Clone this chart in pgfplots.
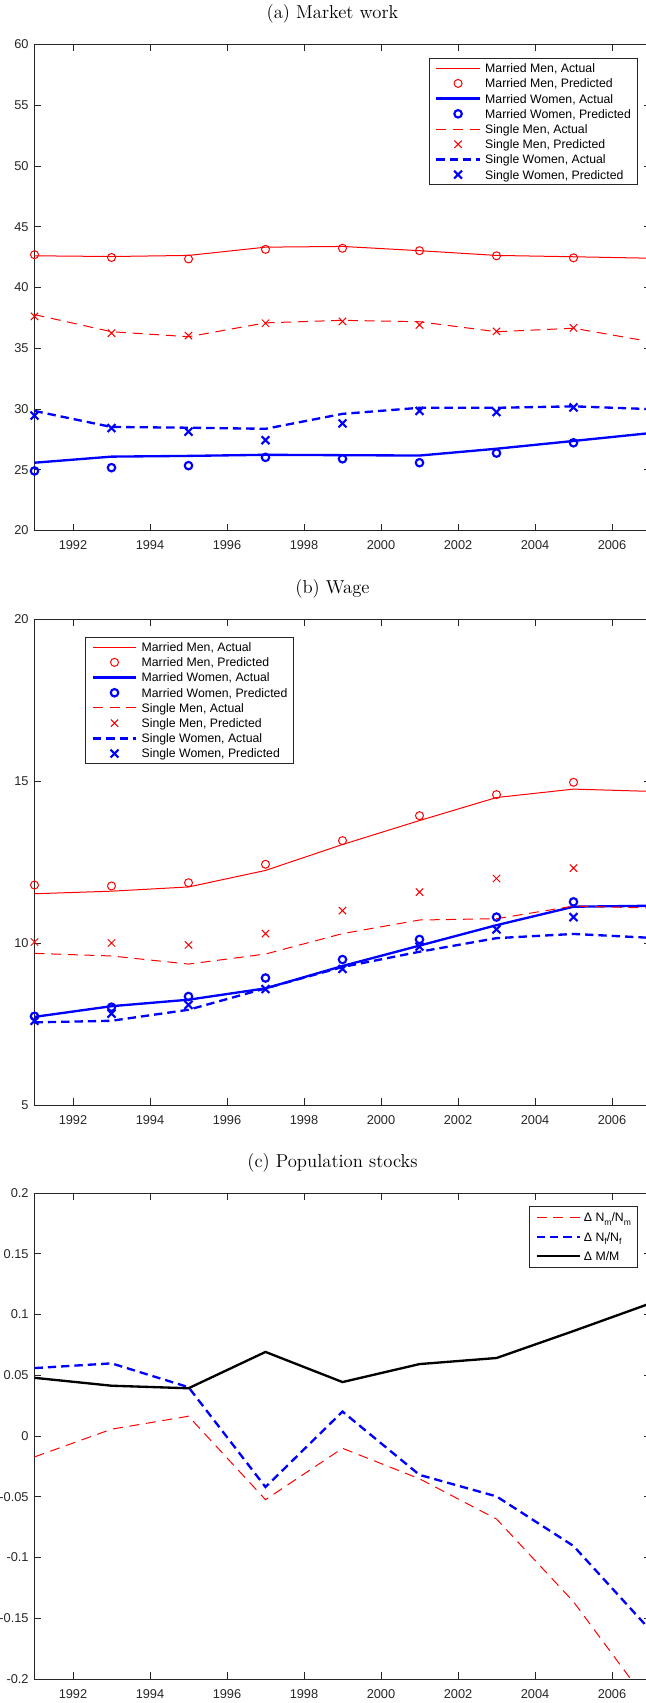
\documentclass[border=0pt]{standalone}
\usepackage{fontspec}
\usepackage{pgfplots}
\usepackage{pgfplotstable}
\pgfplotsset{compat=1.18}
\newfontfamily\arialfont{Liberation Sans}
\definecolor{axgray}{rgb}{0.15,0.15,0.15}
\newcommand{\sub}[1]{\raisebox{-2.4pt}{\fontsize{6.4}{7}\selectfont #1}}

% Panel (a): weekly hours of market work
\pgfplotstableread{
year mmA   smA   mwA   swA
1991 42.61 37.77 25.58 29.84
1993 42.55 36.36 26.08 28.52
1995 42.64 35.95 26.14 28.46
1997 43.32 37.09 26.23 28.37
1999 43.38 37.30 26.20 29.60
2001 43.03 37.18 26.17 30.10
2003 42.64 36.36 26.73 30.10
2005 42.53 36.65 27.37 30.22
2007 42.41 35.54 28.02 29.99
}\workactual
\pgfplotstableread{
year mmP   smP   mwP   swP
1991 42.70 37.62 24.90 29.46
1993 42.47 36.24 25.17 28.43
1995 42.35 36.04 25.34 28.14
1997 43.14 37.06 26.02 27.43
1999 43.23 37.21 25.90 28.81
2001 43.03 36.92 25.58 29.84
2003 42.61 36.39 26.37 29.75
2005 42.44 36.68 27.22 30.13
}\workpred

% Panel (b): hourly wage
\pgfplotstableread{
year mmA   smA   mwA   swA
1991 11.52 9.68  7.72  7.55
1993 11.60 9.60  8.05  7.60
1995 11.73 9.35  8.25  7.94
1997 12.24 9.66  8.60  8.60
1999 13.04 10.29 9.29  9.26
2001 13.78 10.71 9.92  9.73
2003 14.49 10.75 10.55 10.15
2005 14.75 11.14 11.12 10.28
2007 14.68 11.08 11.15 10.16
}\wageactual
\pgfplotstableread{
year mmP   smP   mwP   swP
1991 11.79 10.03 7.74  7.60
1993 11.76 10.00 8.02  7.82
1995 11.86 9.94  8.35  8.09
1997 12.43 10.29 8.92  8.58
1999 13.16 11.00 9.49  9.20
2001 13.93 11.57 10.11 9.89
2003 14.58 11.99 10.80 10.42
2005 14.96 12.31 11.27 10.80
}\wagepred

% Panel (c): changes in population stocks
\pgfplotstableread{
year Nm      Nf      M
1991 -0.0172 0.0559  0.0479
1993 0.0056  0.0598  0.0414
1995 0.0163  0.0402  0.0393
1997 -0.0524 -0.0420 0.0692
1999 -0.0101 0.0201  0.0444
2001 -0.0352 -0.0320 0.0592
2003 -0.0683 -0.0497 0.0642
2005 -0.1364 -0.0905 0.0864
2007 -0.2220 -0.1600 0.1092
}\popstocks

\pgfplotsset{
  panel/.style={
    scale only axis,
    width=462pt, height=364.5pt,
    anchor=north west,
    xmin=1991, xmax=2007,
    xtick={1992,1994,...,2006},
    axis line style={draw=axgray, line width=0.6pt},
    tick style={draw=axgray, line width=0.6pt},
    major tick length=5pt,
    tick align=inside,
    xtick pos=both, ytick pos=both,
    tick label style={font=\arialfont\fontsize{9.6}{11}\selectfont, text=axgray},
    xticklabel style={anchor=base, yshift=-14.45pt},
    yticklabel style={anchor=east, xshift=-0.9pt},
    /pgf/number format/assume math mode=true,
    /pgf/number format/1000 sep={},
    scaled ticks=false,
    title style={font=\fontsize{14}{16}\selectfont, at={(0.5,1)}, anchor=base, yshift=13.5pt, xshift=-7.5pt},
    legend cell align=left,
    legend image code/.code={\draw[mark repeat=2,mark phase=2,##1] plot coordinates {(0pt,0pt) (16.25pt,0pt) (32.5pt,0pt)};},
    legend style={draw=axgray, line width=0.6pt, fill=white,
      font=\arialfont\fontsize{9.2}{11}\selectfont,
      inner xsep=4.5pt, inner ysep=1.9pt, column sep=3.25pt,
      nodes={inner sep=0pt, text height=9.0pt, text depth=2.4pt}, row sep=0pt},
  },
  mmA/.style={red, line width=0.75pt, no marks},
  mmP/.style={red, only marks, mark=o, mark size=3pt, line width=0.75pt},
  mwA/.style={blue, line width=1.75pt, no marks},
  mwP/.style={blue, only marks, mark=o, mark size=2.8pt, line width=1.6pt},
  smA/.style={red, line width=0.75pt, no marks, dash pattern=on 7.5pt off 5pt},
  smP/.style={red, only marks, mark=x, mark size=3.9pt, line width=0.75pt},
  swA/.style={blue, line width=1.75pt, no marks, dash pattern=on 6.25pt off 3.75pt},
  swP/.style={blue, only marks, mark=x, mark size=4.2pt, line width=1.6pt},
}

\begin{document}
\begin{tikzpicture}

% (a) Market work
\begin{axis}[panel, at={(25.875pt,-33.375pt)},
  title={(a) Market work},
  ymin=20, ymax=60, ytick={20,25,...,60},
  legend style={at={(1,1)}, anchor=north east, xshift=-9.9pt, yshift=-9.9pt},
]
\addplot[mmA] table[x=year, y=mmA] {\workactual};
\addlegendentry{Married Men, Actual}
\addplot[mmP] table[x=year, y=mmP] {\workpred};
\addlegendentry{Married Men, Predicted}
\addplot[mwA] table[x=year, y=mwA] {\workactual};
\addlegendentry{Married Women, Actual}
\addplot[mwP] table[x=year, y=mwP] {\workpred};
\addlegendentry{Married Women, Predicted}
\addplot[smA] table[x=year, y=smA] {\workactual};
\addlegendentry{Single Men, Actual}
\addplot[smP] table[x=year, y=smP] {\workpred};
\addlegendentry{Single Men, Predicted}
\addplot[swA] table[x=year, y=swA] {\workactual};
\addlegendentry{Single Women, Actual}
\addplot[swP] table[x=year, y=swP] {\workpred};
\addlegendentry{Single Women, Predicted}
\end{axis}

% (b) Wage
\begin{axis}[panel, at={(25.875pt,-464.25pt)},
  title={(b) Wage},
  ymin=5, ymax=20, ytick={5,10,15,20},
  legend style={at={(0,1)}, anchor=north west, xshift=38.1pt, yshift=-13.2pt},
]
\addplot[mmA] table[x=year, y=mmA] {\wageactual};
\addlegendentry{Married Men, Actual}
\addplot[mmP] table[x=year, y=mmP] {\wagepred};
\addlegendentry{Married Men, Predicted}
\addplot[mwA] table[x=year, y=mwA] {\wageactual};
\addlegendentry{Married Women, Actual}
\addplot[mwP] table[x=year, y=mwP] {\wagepred};
\addlegendentry{Married Women, Predicted}
\addplot[smA] table[x=year, y=smA] {\wageactual};
\addlegendentry{Single Men, Actual}
\addplot[smP] table[x=year, y=smP] {\wagepred};
\addlegendentry{Single Men, Predicted}
\addplot[swA] table[x=year, y=swA] {\wageactual};
\addlegendentry{Single Women, Actual}
\addplot[swP] table[x=year, y=swP] {\wagepred};
\addlegendentry{Single Women, Predicted}
\end{axis}

% (c) Population stocks
\begin{axis}[panel, at={(25.875pt,-894.75pt)},
  title={(c) Population stocks},
  ymin=-0.2, ymax=0.2,
  ytick={-0.2,-0.15,-0.1,-0.05,0,0.05,0.1,0.15,0.2},
  yticklabels={-0.2,-0.15,-0.1,-0.05,0,0.05,0.1,0.15,0.2},
  legend style={at={(1,1)}, anchor=north east, xshift=-9.9pt, yshift=-9.75pt,
    inner ysep=1pt, column sep=2pt,
    nodes={inner sep=0pt, text height=10.55pt, text depth=3.95pt}},
]
\addplot[smA] table[x=year, y=Nm] {\popstocks};
\addlegendentry{Δ N\sub{m}/N\sub{m}}
\addplot[swA] table[x=year, y=Nf] {\popstocks};
\addlegendentry{Δ N\sub{f}/N\sub{f}}
\addplot[black, line width=1.75pt, no marks] table[x=year, y=M] {\popstocks};
\addlegendentry{Δ M/M}
\end{axis}

\pgfresetboundingbox
\useasboundingbox (0pt,0pt) rectangle (484.5pt,-1277.25pt);
\end{tikzpicture}
\end{document}
